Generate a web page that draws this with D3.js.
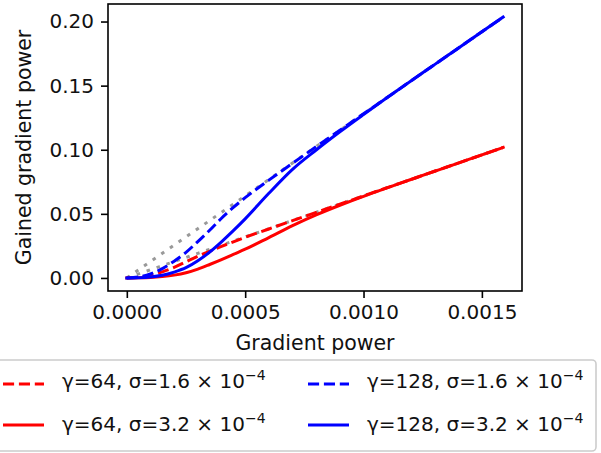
<!DOCTYPE html>
<html>
<head>
<meta charset="utf-8">
<script src="https://cdn.jsdelivr.net/npm/d3@7"></script>
<style>
  body { margin: 0; background: #fff; }
  svg { display: block; font-family: "DejaVu Sans", sans-serif; }
</style>
</head>
<body>
<svg id="chart" width="601" height="453"></svg>
<script>
// x values shared by all the curves (gradient power)
const gradPower = [0, 0.00005, 0.0001, 0.00015, 0.0002, 0.00025, 0.0003, 0.00035, 0.0004, 0.00045,
  0.0005, 0.0006, 0.0007, 0.0008, 0.0009, 0.001, 0.0011, 0.0012, 0.0013, 0.0014, 0.0015, 0.00159];

// grey dotted reference lines
const refHigh = [0, 0.0064, 0.0128, 0.0192, 0.0256, 0.032, 0.0384, 0.0448, 0.0512, 0.0576,
  0.064, 0.0768, 0.0896, 0.1024, 0.1152, 0.128, 0.1408, 0.1536, 0.1664, 0.1792, 0.192, 0.2035];
const refLow = [0, 0.0032, 0.0064, 0.0096, 0.0128, 0.016, 0.0192, 0.0224, 0.0256, 0.0288,
  0.032, 0.0384, 0.0448, 0.0512, 0.0576, 0.064, 0.0704, 0.0768, 0.0832, 0.0896, 0.096, 0.1018];

// gained gradient power
const g64s16 = [0, 0.0004, 0.0019, 0.0048, 0.0083, 0.0126, 0.0169, 0.0208, 0.0246, 0.0282,
  0.0317, 0.0382, 0.0447, 0.0511, 0.0575, 0.0640, 0.0704, 0.0768, 0.0832, 0.0896, 0.0960, 0.1018];
const g64s32 = [0, 0.0001, 0.0004, 0.0011, 0.0022, 0.0040, 0.0069, 0.0105, 0.0143, 0.0184,
  0.0224, 0.0315, 0.0408, 0.0492, 0.0567, 0.0637, 0.0702, 0.0768, 0.0832, 0.0896, 0.0960, 0.1018];
const g128s16 = [0, 0.0008, 0.0031, 0.0073, 0.0131, 0.0200, 0.0284, 0.0372, 0.0466, 0.0550,
  0.0626, 0.0763, 0.0894, 0.1024, 0.1152, 0.1280, 0.1408, 0.1536, 0.1664, 0.1792, 0.1920, 0.2035];
const g128s32 = [0, 0.0002, 0.0008, 0.0021, 0.0046, 0.0080, 0.0134, 0.0202, 0.0282, 0.0369,
  0.0461, 0.0660, 0.0847, 0.0998, 0.1140, 0.1275, 0.1407, 0.1536, 0.1664, 0.1792, 0.1920, 0.2035];

const xTicks = [0, 0.0005, 0.001, 0.0015];
const yTicks = [0, 0.05, 0.10, 0.15, 0.20];
const labels = ["γ=64, σ=1.6", "γ=64, σ=3.2", "γ=128, σ=1.6", "γ=128, σ=3.2"];

const series = [
  { vals: g64s16, color: "red", dash: "11.1,4.8", label: labels[0] },
  { vals: g64s32, color: "red", dash: null, label: labels[1] },
  { vals: g128s16, color: "blue", dash: "11.1,4.8", label: labels[2] },
  { vals: g128s32, color: "blue", dash: null, label: labels[3] }
];

const svg = d3.select("#chart");
const fs = 20;
const box = { left: 108, right: 522, top: 4, bottom: 291 };

// matplotlib-like 5% margins
const xExt = d3.extent(gradPower);
const xPad = (xExt[1] - xExt[0]) * 0.05;
const x = d3.scaleLinear().domain([xExt[0] - xPad, xExt[1] + xPad]).range([box.left, box.right]);
const allY = refHigh.concat(refLow, g64s16, g64s32, g128s16, g128s32);
const yExt = d3.extent(allY);
const yPad = (yExt[1] - yExt[0]) * 0.05;
const y = d3.scaleLinear().domain([yExt[0] - yPad, yExt[1] + yPad]).range([box.bottom, box.top]);

const line = d3.line()
  .x((d, i) => x(gradPower[i]))
  .y(d => y(d))
  .curve(d3.curveMonotoneX);

const plot = svg.append("g");

// reference lines under everything
[refHigh, refLow].forEach(function(r) {
  plot.append("path")
    .attr("d", line(r))
    .attr("fill", "none")
    .attr("stroke", "#808080")
    .attr("stroke-opacity", 0.8)
    .attr("stroke-width", 3)
    .attr("stroke-dasharray", "3.5,7");
});

series.forEach(function(s) {
  plot.append("path")
    .attr("d", line(s.vals))
    .attr("fill", "none")
    .attr("stroke", s.color)
    .attr("stroke-width", 3)
    .attr("stroke-linecap", s.dash ? "butt" : "square")
    .attr("stroke-dasharray", s.dash);
});

// frame
svg.append("rect")
  .attr("x", box.left).attr("y", box.top)
  .attr("width", box.right - box.left).attr("height", box.bottom - box.top)
  .attr("fill", "none").attr("stroke", "#000").attr("stroke-width", 1.6);

// x axis
const xAxis = d3.axisBottom(x).tickValues(xTicks).tickFormat(d3.format(".4f"))
  .tickSize(7).tickPadding(7);
const gx = svg.append("g").attr("transform", "translate(0," + box.bottom + ")").call(xAxis);
gx.select(".domain").remove();
gx.selectAll(".tick line").attr("stroke", "#000").attr("stroke-width", 1.6);
gx.selectAll(".tick text").attr("font-size", fs).attr("font-family", "DejaVu Sans").attr("fill", "#111");

// y axis
const yAxis = d3.axisLeft(y).tickValues(yTicks).tickFormat(d3.format(".2f"))
  .tickSize(7).tickPadding(7);
const gy = svg.append("g").attr("transform", "translate(" + box.left + ",0)").call(yAxis);
gy.select(".domain").remove();
gy.selectAll(".tick line").attr("stroke", "#000").attr("stroke-width", 1.6);
gy.selectAll(".tick text").attr("font-size", fs).attr("font-family", "DejaVu Sans").attr("fill", "#111");

// axis labels
svg.append("text")
  .attr("x", (box.left + box.right) / 2).attr("y", 350)
  .attr("text-anchor", "middle").attr("font-size", 20.5).attr("fill", "#111")
  .text("Gradient power");
svg.append("text")
  .attr("transform", "translate(31," + (box.top + box.bottom) / 2 + ") rotate(-90)")
  .attr("text-anchor", "middle").attr("font-size", 20.5).attr("fill", "#111")
  .text("Gained gradient power");

// legend (two columns, runs off the left edge like the original)
const leg = svg.append("g");
leg.append("rect")
  .attr("x", -20).attr("y", 360).attr("width", 616).attr("height", 91)
  .attr("rx", 4)
  .attr("fill", "#fff").attr("fill-opacity", 0.8)
  .attr("stroke", "#cccccc").attr("stroke-width", 1.6);

series.forEach(function(s, i) {
  const col = Math.floor(i / 2), row = i % 2;
  const hx = 3 + col * 305;
  const hy = 384 + row * 41;
  leg.append("line")
    .attr("x1", hx).attr("x2", hx + 41).attr("y1", hy).attr("y2", hy)
    .attr("stroke", s.color).attr("stroke-width", 3)
    .attr("stroke-dasharray", s.dash);
  const t = leg.append("text")
    .attr("x", hx + 59).attr("y", hy + 4 + row * 1.5)
    .attr("font-size", fs).attr("fill", "#111");
  t.append("tspan").text(s.label + " × 10");
  t.append("tspan").attr("font-size", 14).attr("dy", -8).text("−4");
});
</script>
</body>
</html>
